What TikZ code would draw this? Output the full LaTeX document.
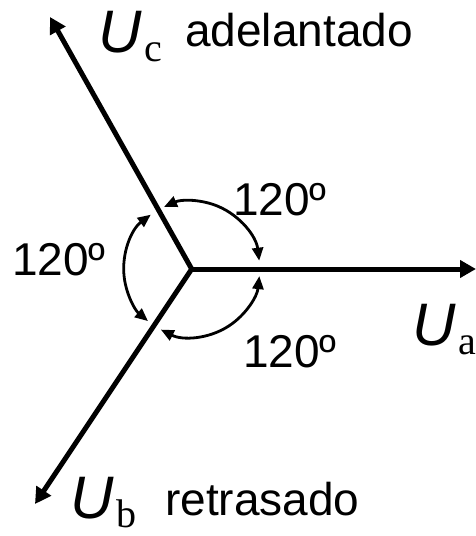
\documentclass[tikz,border=0pt]{standalone}
\usepackage{fontspec}
\setmainfont{Liberation Sans}
\newfontfamily\subserif{Liberation Serif}
\usepackage{tikz}
\usetikzlibrary{arrows.meta, positioning}

\newcommand{\phasor}[1]{{\fontsize{60}{60}\selectfont\itshape U}\kern3pt\raisebox{-9pt}{\fontsize{40}{40}\subserif #1}}

\begin{document}
\begin{tikzpicture}[x=1pt, y=1pt,
    vec/.style={line width=5pt, -{Triangle[length=16pt, width=17pt]}},
    ang/.style={line width=2.8pt, {Triangle[length=13pt, width=11pt]}-{Triangle[length=13pt, width=11pt]}},
    lbl/.style={inner sep=0pt, anchor=base west, font=\fontsize{46}{50}\selectfont}
]
\useasboundingbox (-191.7,-267) rectangle (284.3,269);
\coordinate (o) at (0,0);
\coordinate (ua) at (284.3,0);
\coordinate (uc) at (-141.7,252);
\coordinate (ub) at (-156.7,-235);
\draw[vec] (o) -- (ua);
\draw[vec] (o) -- (uc);
\draw[vec] (o) -- (ub);
\draw[ang] (o) ++(7:68) arc[start angle=7, end angle=114, radius=68];
\draw[ang] (o) ++(127:68) arc[start angle=127, end angle=230, radius=68];
\draw[ang] (o) ++(243:68) arc[start angle=243, end angle=354, radius=68];
\node[lbl] (up) at (41.3,54) {120º};
\node[lbl] (left) at (-179.7,-6) {120º};
\node[lbl] (low) at (51.3,-98) {120º};
\node[lbl] (lc) at (-93.7,216) {\phasor{c}};
\node[lbl] (adel) at (-6.7,222) {adelantado};
\node[lbl] (la) at (220.3,-76) {\phasor{a}};
\node[lbl] (lb) at (-121.7,-249) {\phasor{b}};
\node[lbl] (retr) at (-26.7,-246) {retrasado};
\end{tikzpicture}
\end{document}
